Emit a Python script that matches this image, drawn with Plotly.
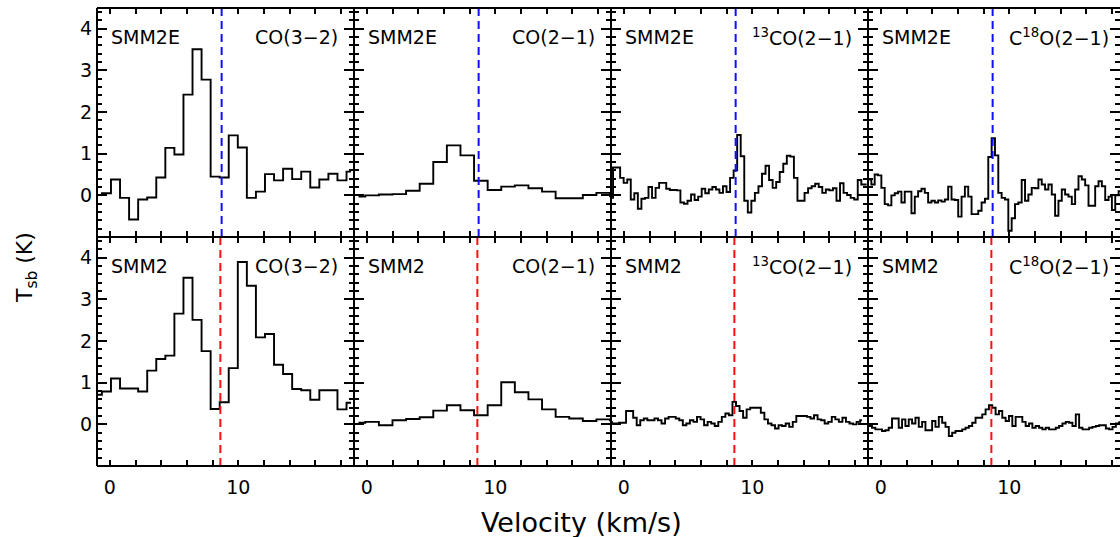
import plotly.graph_objects as go

W, H = 1120, 537

# ---------------- data ----------------
# channel grids: first channel centre and channel width (km/s)
co32_v0, co32_dv = -0.97, 0.705
co21_v0, co21_dv = -0.65, 1.058
c13_top_v0, c13_bot_v0, c13_dv = -0.98, -1.07, 0.276
c18_top_v0, c18_bot_v0, c18_dv = -1.13, -1.08, 0.26

smm2e_co32 = [0.01, 0.05, 0.38, -0.06, -0.58, -0.10, -0.05, 0.43, 1.14, 0.98,
              2.42, 3.51, 2.78, 0.45, 0.43, 1.44, 1.15, -0.06, 0.09, 0.51,
              0.36, 0.64, 0.39, 0.57, 0.19, 0.38, 0.52, 0.36, 0.57]
smm2_co32 = [0.71, 0.79, 1.10, 0.86, 0.86, 0.79, 1.29, 1.57, 1.65, 2.66,
             3.52, 2.51, 1.76, 0.37, 0.53, 1.35, 3.90, 3.33, 2.09, 2.17,
             1.43, 1.21, 0.85, 0.82, 0.59, 0.82, 0.82, 0.36, 0.52]

smm2e_co21 = [-0.03, 0.00, 0.02, 0.03, 0.11, 0.28, 0.80, 1.20, 0.96, 0.35,
              0.13, 0.21, 0.24, 0.17, 0.09, -0.07, -0.07, 0.01, 0.06, -0.02]
smm2_co21 = [0.04, 0.06, -0.02, 0.10, 0.13, 0.17, 0.33, 0.46, 0.34, 0.22,
             0.46, 1.01, 0.77, 0.60, 0.36, 0.18, 0.14, 0.08, 0.12, 0.10]

smm2e_13co = [-0.06, 0.67, 0.67, 0.42, 0.30, 0.38, -0.10, 0.05, -0.32, -0.08,
              -0.06, 0.20, -0.06, 0.18, 0.30, 0.30, 0.16, 0.13, 0.13, 0.12,
              -0.17, -0.20, -0.13, 0.02, -0.11, -0.03, 0.16, 0.05, 0.14, 0.20,
              0.14, 0.06, 0.22, 0.08, 0.42, 0.60, 1.45, 0.94, -0.13, -0.41,
              -0.13, 0.06, 0.22, 0.52, 0.71, 0.37, 0.18, 0.32, 0.56, 0.76,
              0.95, 0.93, 0.42, -0.13, -0.13, 0.06, 0.17, 0.22, 0.28, 0.20,
              0.06, 0.14, 0.12, 0.17, -0.13, 0.29, 0.06, 0.01, -0.06, -0.10,
              0.37, 0.26, 0.26]
smm2_13co = [0.06, 0.02, 0.02, 0.04, 0.04, 0.32, 0.32, 0.16, -0.02, 0.10,
             0.14, 0.10, 0.10, 0.14, 0.10, 0.02, 0.14, 0.18, 0.18, 0.14,
             0.10, -0.02, 0.02, 0.10, 0.06, 0.18, 0.12, -0.02, 0.06, 0.02,
             -0.04, 0.06, 0.18, 0.26, 0.22, 0.54, 0.44, 0.32, 0.16, 0.36,
             0.40, 0.40, 0.40, 0.28, 0.12, 0.02, -0.02, -0.10, -0.02, -0.04,
             0.02, -0.06, 0.06, 0.20, 0.20, 0.20, 0.18, 0.14, 0.22, 0.12,
             0.10, 0.02, 0.06, 0.18, 0.12, 0.06, 0.16, 0.06, 0.02, 0.00,
             0.06, 0.10]

smm2e_c18o = [0.24, 0.38, 0.26, 0.50, 0.48, 0.18, -0.21, -0.24, 0.00, 0.05,
              0.09, -0.17, 0.09, 0.09, -0.43, -0.03, 0.10, 0.16, 0.06, -0.17,
              -0.13, -0.17, -0.12, -0.15, -0.10, 0.21, -0.10, -0.11, -0.51, -0.03,
              0.21, -0.03, -0.45, -0.45, -0.37, -0.17, -0.08, 0.92, 1.37, 0.96,
              0.06, -0.06, -0.10, -0.85, -0.55, -0.21, -0.17, 0.37, -0.13, 0.02,
              0.18, 0.17, 0.38, 0.26, 0.14, 0.26, 0.02, -0.49, -0.13, 0.14,
              0.02, -0.03, -0.21, 0.14, 0.46, 0.38, 0.24, -0.25, -0.25, 0.22,
              0.34, 0.22, -0.11, -0.03, -0.35, 0.00, 0.10]
smm2_c18o = [-0.02, -0.04, -0.08, -0.12, -0.12, -0.16, -0.14, -0.08, 0.14, 0.14,
             -0.08, 0.12, -0.04, 0.12, 0.02, 0.16, -0.06, 0.06, -0.14, -0.14,
             0.08, -0.06, 0.18, 0.04, -0.06, -0.28, -0.20, -0.16, -0.16, -0.12,
             -0.08, -0.04, 0.04, 0.16, 0.16, 0.24, 0.36, 0.46, 0.40, 0.24,
             0.32, 0.16, 0.08, 0.20, -0.04, 0.18, 0.18, 0.06, -0.04, 0.02,
             -0.08, -0.04, -0.08, -0.12, -0.08, -0.12, -0.12, -0.08, -0.04, 0.02,
             0.06, 0.04, -0.04, 0.24, -0.08, -0.12, -0.12, -0.08, -0.06, -0.04,
             -0.02, -0.02, -0.10, -0.12, -0.06, 0.02, 0.05]

sources = ["SMM2E", "SMM2"]
lines = ["CO(3\u22122)", "CO(2\u22121)", "<sup>13</sup>CO(2\u22121)", "C<sup>18</sup>O(2\u22121)"]
vlsr_lines = [8.7, 8.6]          # systemic velocity markers (km/s)
vlsr_colors = ["#1010ff", "#ff1010"]
x_tick_labels = ["0", "10"]
y_tick_labels = ["0", "1", "2", "3", "4"]

spectra = [
    [(co32_v0, co32_dv, smm2e_co32), (co21_v0, co21_dv, smm2e_co21),
     (c13_top_v0, c13_dv, smm2e_13co), (c18_top_v0, c18_dv, smm2e_c18o)],
    [(co32_v0, co32_dv, smm2_co32), (co21_v0, co21_dv, smm2_co21),
     (c13_bot_v0, c13_dv, smm2_13co), (c18_bot_v0, c18_dv, smm2_c18o)],
]

# ---------------- layout geometry (pixels) ----------------
panel_w = 257.0
left0 = 97.0
col_left = [left0 + i * panel_w for i in range(4)]
col_right = [min(l + panel_w, W) for l in col_left]
row_top = [8.0, 237.0]
row_bot = [237.0, 466.0]
XMIN, XMAX = -1.0, 19.0
YMIN, YMAX = -1.0, 4.5

def px(x):
    return x / W

def py(y):
    return 1 - y / H

fig = go.Figure()
font_family = "DejaVu Sans"

annotations = []
shapes = []
for r in range(2):
    for c in range(4):
        idx = r * 4 + c + 1
        xa = "x" if idx == 1 else f"x{idx}"
        ya = "y" if idx == 1 else f"y{idx}"
        v0, dv, T = spectra[r][c]
        vel = [round(v0 + i * dv, 3) for i in range(len(T))]
        fig.add_trace(go.Scatter(x=vel, y=T, mode="lines",
                                 line=dict(color="black", width=1.9, shape="hvh"),
                                 xaxis=xa, yaxis=ya, showlegend=False,
                                 hoverinfo="skip"))
        xr_max = XMIN + (col_right[c] - col_left[c]) / panel_w * (XMAX - XMIN)
        xkey = "xaxis" if idx == 1 else f"xaxis{idx}"
        ykey = "yaxis" if idx == 1 else f"yaxis{idx}"
        fig.layout[xkey] = dict(
            domain=[px(col_left[c]), px(col_right[c])],
            anchor=ya, range=[XMIN, xr_max],
            showline=False, mirror="ticks",
            ticks="inside", tickvals=[0, 10], ticktext=x_tick_labels,
            ticklen=6, tickwidth=2, tickcolor="black",
            minor=dict(dtick=2, tick0=0, ticks="inside", ticklen=6,
                       tickwidth=2, tickcolor="black", showgrid=False),
            showticklabels=(r == 1), ticklabelstandoff=8,
            tickfont=dict(family=font_family, size=19, color="black"),
            showgrid=False, zeroline=False, fixedrange=True,
        )
        fig.layout[ykey] = dict(
            domain=[py(row_bot[r]), py(row_top[r])],
            anchor=xa, range=[YMIN, YMAX],
            showline=False, mirror="ticks",
            ticks="inside", tickvals=[0, 1, 2, 3, 4], ticktext=y_tick_labels,
            ticklen=10, tickwidth=2, tickcolor="black",
            minor=dict(dtick=0.2, tick0=0, ticks="inside", ticklen=5,
                       tickwidth=1.5, tickcolor="black", showgrid=False),
            showticklabels=(c == 0), ticklabelstandoff=4,
            tickfont=dict(family=font_family, size=19, color="black"),
            showgrid=False, zeroline=False, fixedrange=True,
        )
        # systemic velocity marker
        shapes.append(dict(type="line", xref=xa, yref=f"{ya} domain",
                           x0=vlsr_lines[r], x1=vlsr_lines[r], y0=0, y1=1,
                           line=dict(color=vlsr_colors[r], width=2, dash="8px,5px")))
        # panel labels
        ylab = row_top[r] + 28.5
        annotations.append(dict(text=sources[r], xref="paper", yref="paper",
                                x=px(col_left[c] + 12), y=py(ylab),
                                xanchor="left", yanchor="middle", showarrow=False,
                                font=dict(family=font_family, size=19, color="black")))
        annotations.append(dict(text=lines[c], xref="paper", yref="paper",
                                x=px(col_left[c] + panel_w - 14), y=py(ylab),
                                xanchor="right", yanchor="middle", showarrow=False,
                                font=dict(family=font_family, size=19, color="black")))

# panel frames (shared edges drawn once)
for yy in [row_top[0], row_bot[0], row_bot[1]]:
    shapes.append(dict(type="line", xref="paper", yref="paper", layer="above",
                       x0=px(col_left[0]), x1=1.0, y0=py(yy), y1=py(yy),
                       line=dict(color="black", width=2)))
for xx in col_left:
    shapes.append(dict(type="line", xref="paper", yref="paper", layer="above",
                       x0=px(xx), x1=px(xx), y0=py(row_top[0]), y1=py(row_bot[1]),
                       line=dict(color="black", width=2)))

annotations.append(dict(text="Velocity (km/s)", xref="paper", yref="paper",
                        x=px(581), y=py(522), xanchor="center", yanchor="middle",
                        showarrow=False,
                        font=dict(family=font_family, size=27, color="black")))
annotations.append(dict(text="T<sub>sb</sub> (K)", xref="paper", yref="paper",
                        x=px(27), y=py(268), xanchor="center", yanchor="middle",
                        textangle=-90, showarrow=False,
                        font=dict(family=font_family, size=22, color="black")))

fig.update_layout(width=W, height=H, margin=dict(l=0, r=0, t=0, b=0),
                  paper_bgcolor="white", plot_bgcolor="white",
                  annotations=annotations, shapes=shapes, showlegend=False)

fig.write_html("out.html")
